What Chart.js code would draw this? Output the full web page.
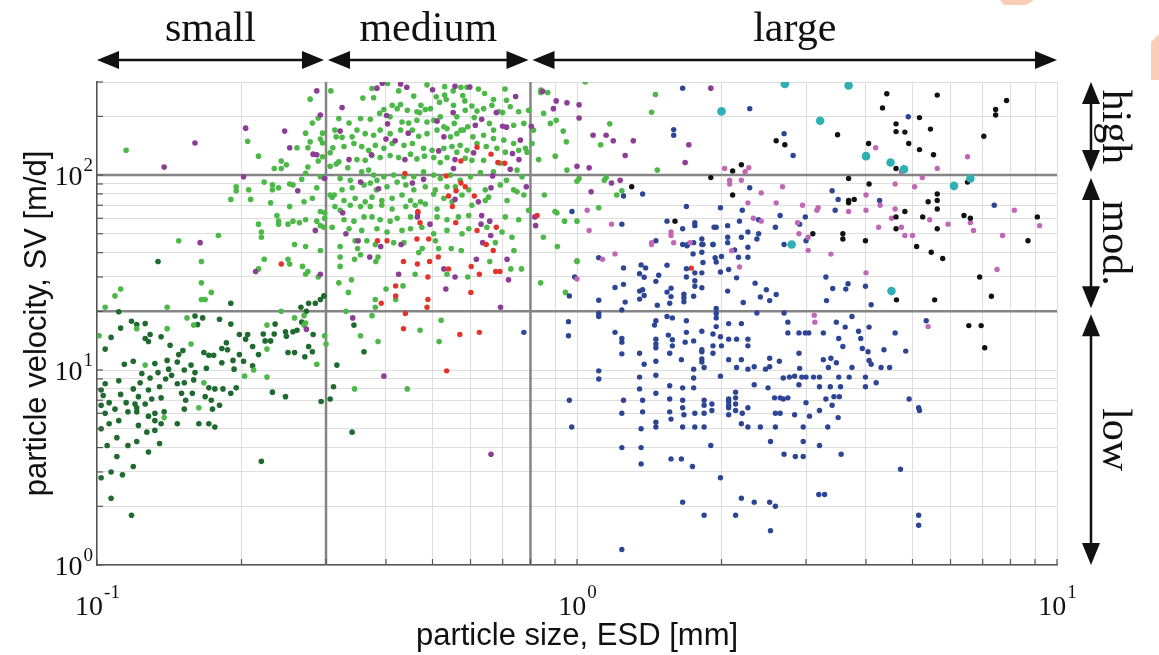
<!DOCTYPE html>
<html>
<head>
<meta charset="utf-8">
<title>particle size vs velocity</title>
<script src="https://cdn.jsdelivr.net/npm/chart.js@4/dist/chart.umd.min.js"></script>
<style>
  html, body { margin: 0; padding: 0; background: #fff; }
  #wrap { width: 1159px; height: 655px; }
</style>
</head>
<body>
<div id="wrap"><canvas id="chart" width="1159" height="655"></canvas></div>
<script>
// size classes (ESD, mm) and velocity classes (SV, m/d)
const sizeBounds = [0.1, 0.3, 0.8, 10];
const sizeNames = ['small', 'medium', 'large'];
const velBounds = [300, 100, 20, 1];
const velNames = ['high', 'mod.', 'low'];

// grid lines and decade labels
const xGridVals = [0.1,0.2,0.3,0.4,0.5,0.6,0.7,0.8,0.9,1,2,3,4,5,6,7,8,9,10];
const yGridVals = [1,2,3,4,5,6,7,8,9,10,20,30,40,50,60,70,80,90,100,200,300];
const xDecades = [0.1, 1, 10];
const xExps = ['-1', '0', '1'];
const yDecades = [1, 10, 100];
const yExps = ['0', '1', '2'];

// small particles (dark green)
const smallPts = [
  [0.111,19.9],[0.118,17.8],[0.121,17.1],[0.126,17.3],[0.112,16.4],[0.129,15.2],[0.126,14.5],[0.128,14],[0.136,14.8],[0.107,14.7],
  [0.104,12.8],[0.142,13.4],[0.151,12.6],[0.148,12],[0.14,11.2],[0.147,11],[0.132,10.8],[0.119,11.1],[0.114,10.7],[0.16,18.9],
  [0.162,17.1],[0.166,18.5],[0.18,18.2],[0.19,17.2],[0.167,12.3],[0.171,11.9],[0.175,11.9],[0.186,13.8],[0.182,12.9],[0.187,12.7],
  [0.182,10.9],[0.192,11.2],[0.198,12],[0.202,11.1],[0.198,15.2],[0.206,15.2],[0.204,14.4],[0.211,13.2],[0.217,12],[0.211,10.5],
  [0.222,15.3],[0.224,14.1],[0.23,14.1],[0.234,15.3],[0.235,17.2],[0.248,14.9],[0.247,15.7],[0.256,15.7],[0.261,16],[0.267,17.6],
  [0.25,12.3],[0.258,12.3],[0.271,11.7],[0.281,12.4],[0.276,13.2],[0.282,15.2],[0.157,10.6],[0.152,10],[0.16,9.7],[0.141,10.1],
  [0.143,9.4],[0.134,9.7],[0.139,9],[0.129,9.1],[0.124,9.6],[0.111,8.8],[0.104,8.5],[0.123,8.6],[0.119,8],[0.128,7.9],
  [0.135,8.2],[0.147,8.5],[0.152,8.6],[0.159,8.9],[0.169,10.2],[0.193,10.1],[0.195,8.1],[0.171,8.1],[0.176,8],[0.183,8],
  [0.19,7.6],[0.158,7.6],[0.15,7.6],[0.153,7],[0.136,7.2],[0.13,7.1],[0.122,7.3],[0.12,6.7],[0.115,6.8],[0.112,7.5],
  [0.106,6.8],[0.103,7.4],[0.102,7.9],[0.102,6.6],[0.109,6.3],[0.126,6.7],[0.121,6.4],[0.152,6.3],[0.168,7.3],[0.173,7],
  [0.174,6.3],[0.18,6.6],[0.232,7.7],[0.247,7.3],[0.293,6.9],[0.306,7.1],[0.311,8.2],[0.134,36],[0.19,22],[0.276,22],
  [0.285,22],[0.297,24],[0.292,23],[0.266,21],[0.273,20],[0.104,6],[0.116,6.1],[0.121,6.1],[0.128,5.8],[0.132,6],
  [0.138,6.1],[0.102,5],[0.106,5.3],[0.111,5.5],[0.122,5.2],[0.132,5.5],[0.136,5.3],[0.127,4.8],[0.132,4.9],[0.147,5.3],
  [0.163,5.3],[0.171,5.3],[0.176,5.1],[0.11,4.5],[0.105,4.1],[0.116,4.1],[0.121,4.3],[0.135,4.2],[0.128,3.8],[0.11,3.6],
  [0.119,3.2],[0.107,3],[0.113,2.9],[0.102,2.8],[0.107,2.2],[0.118,1.8],[0.22,3.4],[0.34,4.8],[0.343,17],[0.36,12.4],
  [0.316,10.6]
];

// medium particles (light green)
const mediumPts = [
  [0.115,134],[0.206,149],[0.217,125],[0.261,138],[0.242,118],[0.234,108],[0.242,108],[0.248,113],[0.307,270],[0.278,245],
  [0.289,196],[0.281,185],[0.272,164],[0.295,164],[0.278,148],[0.292,153],[0.295,146],[0.275,138],[0.289,118],[0.295,124],
  [0.275,110],[0.272,102],[0.306,130],[0.31,138],[0.315,157],[0.313,170],[0.315,114],[0.306,111],[0.292,98],[0.195,87],
  [0.195,83],[0.207,84],[0.19,75],[0.209,75],[0.223,92],[0.232,89],[0.239,86],[0.232,84],[0.252,90],[0.256,89],
  [0.267,95],[0.287,86],[0.306,79],[0.309,77],[0.312,79],[0.281,76],[0.23,72],[0.252,69],[0.27,73],[0.313,69],
  [0.292,65],[0.298,64],[0.237,62],[0.239,58],[0.239,56],[0.25,56],[0.256,58],[0.264,57],[0.272,59],[0.287,58],
  [0.292,55],[0.297,54],[0.298,60],[0.309,54],[0.217,56],[0.22,51],[0.22,48],[0.179,49],[0.148,46],[0.258,44],
  [0.165,36],[0.112,26],[0.109,24],[0.104,21],[0.165,28],[0.165,23],[0.168,23],[0.173,25],[0.14,21],[0.223,37],
  [0.217,33],[0.25,37],[0.252,35],[0.268,34],[0.272,31],[0.275,32],[0.289,30],[0.292,41],[0.272,43],[0.242,20],
  [0.27,19],[0.258,18.5],[0.272,17.4],[0.27,17],[0.298,15],[0.3,13.6],[0.287,10.7],[0.154,18.5],[0.159,17],[0.14,16.3],
  [0.121,16.3],[0.101,15],[0.157,13.6],[0.126,10.6],[0.226,17],[0.226,12.8],[0.212,10],[0.203,9.3],[0.226,9.2],[0.167,8.6],
  [0.163,6.4],[0.138,5.7],
  [0.374,278],[0.403,295],[0.425,270],[0.487,290],[0.53,284],[0.552,270],[0.573,282],[0.59,282],[0.623,276],[0.642,262],
  [0.67,244],[0.708,276],[0.713,242],[0.84,265],[0.869,265],[0.358,248],[0.377,249],[0.457,254],[0.473,228],[0.53,257],
  [0.534,244],[0.578,256],[0.584,240],[0.509,252],[0.517,236],[0.604,226],[0.7,209],[0.412,228],[0.429,230],[0.422,219],
  [0.443,215],[0.464,211],[0.47,209],[0.483,217],[0.495,219],[0.553,228],[0.562,199],[0.585,215],[0.619,213],[0.639,219],
  [0.665,228],[0.687,211],[0.726,224],[0.756,211],[0.793,215],[0.319,195],[0.335,185],[0.354,195],[0.371,193],[0.388,207],
  [0.396,217],[0.408,199],[0.432,187],[0.446,185],[0.464,191],[0.487,187],[0.503,191],[0.519,199],[0.536,173],[0.555,184],
  [0.573,170],[0.592,177],[0.611,197],[0.657,184],[0.67,170],[0.738,180],[0.775,184],[0.812,170],[0.324,156],[0.34,157],
  [0.348,170],[0.362,163],[0.377,160],[0.389,170],[0.408,163],[0.429,170],[0.454,170],[0.468,158],[0.487,163],[0.511,170],
  [0.528,177],[0.545,157],[0.562,163],[0.58,170],[0.607,157],[0.639,160],[0.67,154],[0.704,151],[0.738,145],[0.756,134],
  [0.781,137],[0.806,145],[0.327,140],[0.343,145],[0.356,140],[0.368,134],[0.38,142],[0.396,137],[0.412,145],[0.436,142],
  [0.454,145],[0.479,137],[0.499,134],[0.528,137],[0.549,140],[0.571,142],[0.59,134],[0.619,145],[0.647,140],[0.681,137],
  [0.709,131],[0.787,131],[0.319,117],[0.333,109],[0.348,120],[0.362,119],[0.374,126],[0.389,123],[0.408,126],[0.425,123],
  [0.45,128],[0.464,121],[0.481,125],[0.503,123],[0.519,116],[0.536,123],[0.562,131],[0.585,122],[0.604,119],[0.639,119],
  [0.692,115],[0.75,106],[0.321,96],[0.337,94],[0.356,104],[0.368,106],[0.377,100],[0.383,94],[0.396,98],[0.415,100],
  [0.436,98],[0.457,98],[0.479,104],[0.503,100],[0.519,96],[0.545,100],[0.571,94],[0.6,98],[0.629,103],[0.67,104],
  [0.713,94],[0.768,98],[0.324,84],[0.34,86],[0.36,89],[0.371,91],[0.382,84],[0.402,87],[0.422,92],[0.44,89],
  [0.457,84],[0.483,87],[0.507,84],[0.536,87],[0.558,87],[0.595,84],[0.644,84],[0.692,89],[0.738,84],[0.775,79],
  [0.327,74],[0.345,76],[0.362,73],[0.374,77],[0.392,74],[0.412,76],[0.432,79],[0.45,74],[0.472,73],[0.503,80],
  [0.528,76],[0.576,79],[0.654,77],[0.715,74],[0.75,82],[0.321,66],[0.337,70],[0.354,69],[0.371,69],[0.392,70],
  [0.412,67],[0.44,69],[0.46,70],[0.483,71],[0.511,67],[0.549,73],[0.604,70],[0.644,74],[0.327,59],[0.343,58],
  [0.36,61],[0.374,61],[0.389,59],[0.408,58],[0.422,60],[0.45,61],[0.511,61],[0.536,59],[0.566,61],[0.595,62],
  [0.709,61],[0.756,59],[0.793,66],[0.335,53],[0.356,52],[0.383,53],[0.402,51],[0.432,52],[0.45,53],[0.475,54],
  [0.503,50],[0.536,52],[0.576,50],[0.595,53],[0.649,54],[0.698,51],[0.732,48],[0.345,46],[0.365,46],[0.415,45],
  [0.436,45],[0.507,46],[0.676,45],[0.841,273],[0.852,207],[0.88,184],[0.905,191],[0.936,168],[0.95,148],[0.901,125],
  [0.832,120],[0.855,79],[0.942,58],[0.9,65],[0.908,64],[0.851,48],[0.953,106],
  [0.321,43],[0.349,42],[0.354,39],[0.344,37],[0.321,38],[0.321,34],[0.339,29],[0.319,28],[0.334,25],[0.381,36],
  [0.385,38],[0.38,44],[0.4,26],[0.419,23],[0.434,27],[0.46,31],[0.468,40],[0.476,42],[0.515,42],[0.547,42],
  [0.574,41],[0.536,31],[0.592,30],[0.658,36],[0.728,33],[0.739,41],[0.766,33],[0.38,23],[0.38,21],[0.374,19],
  [0.33,20],[0.354,15],[0.385,14],[0.471,16],[0.521,18],[0.516,14],[0.344,8],[0.443,8],[0.84,28],[0.946,25],
  [1.0,36],[0.91,43],
  [1.04,300],[1.457,259],[1.43,210],[1.17,183],[1.12,143],[1.47,106],[1.01,96],[1.0,93],[1.14,94],[1.15,97],
  [1.24,83],[1.21,79],[1.11,68],[1.0,58],[1.0,36.3]
];

// purple
const purplePts = [
  [0.138,110],[0.16,146],[0.204,174],[0.246,168],[0.252,138],[0.287,270],[0.292,203],[0.282,128],[0.287,127],[0.202,98],
  [0.298,96],[0.262,83],[0.285,52],[0.164,45],[0.214,32],[0.292,31],[0.273,16.2],
  [0.383,279],[0.393,296],[0.429,293],[0.442,282],[0.5,274],[0.557,285],[0.598,283],[0.745,253],[0.848,269],[0.905,240],
  [0.953,235],[0.893,219],[0.324,222],[0.552,209],[0.679,209],[0.7,178],[0.713,176],[0.803,178],[0.401,202],[0.403,183],
  [0.511,189],[0.614,180],[0.633,193],[0.445,164],[0.418,150],[0.4,153],[0.373,127],[0.335,120],[0.321,168],[0.762,151],
  [0.734,129],[0.757,120],[0.726,107],[0.609,130],[0.557,120],[0.553,108],[0.515,133],[0.528,157],[0.438,120],[0.479,95],
  [0.454,91],[0.386,85],[0.354,92],[0.667,99],[0.662,86],[0.557,75],[0.623,73],[0.784,87],[0.633,62],[0.658,58],
  [0.631,56],[0.661,49],[0.636,45],[0.465,61],[0.466,64],[0.494,56],[0.325,64],[0.33,50],[0.35,46],[0.817,61],
  [0.82,55],[0.37,38],[0.39,43],[0.43,44],[0.425,31],[0.528,33],[0.557,30],[0.617,37],[0.715,37],[0.72,29],
  [0.533,26],[0.693,21],[0.341,18.5],[0.396,9.3],[0.662,3.7],
  [1.01,229],[1.01,196],[1.08,160],[1.15,160],[1.19,150],[1.31,150],[1.26,126],[1.71,143],[1.68,116],[1.9,279],
  [1.06,109],[1.0,111],[1.23,94],[1.18,91],[1.07,82]
];

// red
const redPts = [
  [0.619,139],[0.662,128],[0.684,116],[0.707,115],[0.573,118],[0.438,102],[0.534,99],[0.56,83],[0.573,91],[0.585,87],
  [0.54,78],[0.55,69],[0.611,78],[0.466,65],[0.471,57],[0.559,57],[0.679,54],[0.619,52],[0.384,46],[0.402,46],
  [0.464,47],[0.491,47],[0.826,62],[0.647,44],[0.669,41],[0.435,36],[0.465,35],[0.493,36],[0.514,38],[0.54,33],
  [0.602,34],[0.626,31],[0.677,32],[0.691,32],[0.489,30],[0.419,27],[0.419,24],[0.391,22],[0.489,23],[0.487,21],
  [0.601,25],[0.439,19.5],[0.435,16.3],[0.57,15.2],[0.626,15.6],[0.535,9.9],[0.242,35],[1.73,33.3]
];

// large particles (blue)
const bluePts = [
  [0.976,65],[0.989,30],[0.964,24],[0.96,17.7],[0.96,15],[0.775,15.6],[0.964,7],[0.975,5.1],
  [1.66,279],[2.29,219],[1.59,171],[1.59,160],[2.7,163],[2.82,126],[2.29,86],[1.25,78],[1.37,80],[1.69,69],
  [1.99,68],[2.21,66],[2.65,62],[2.99,61],[1.24,56],[1.54,58],[1.66,53],[1.76,57],[1.76,55],[1.93,54],
  [1.95,54],[2.06,55],[2.18,58],[2.39,59],[2.59,54],[2.91,56],[1.46,46],[1.66,44],[1.7,44],[1.82,47],
  [1.83,44],[1.92,44],[2.06,48],[2.06,45],[2.2,48],[2.27,51],[2.39,50],[2.37,47],[2.7,44],[3.0,46],[1.75,45],
  [4.9,199],[3.4,83],[3.5,75],[3.45,66],[4.27,74],[7.4,70],
  [1.695,43.4],[1.82,44],[1.92,44],[2.27,42.6],[2.13,41.3],[1.745,39.4],[1.82,40.2],[1.94,37.7],[2.0,38.2],[1.95,35.8],
  [1.83,35.6],[2.17,37.9],[2.27,37.9],[1.11,37.7],[1.25,33.4],[1.36,34.6],[1.39,33.4],[1.54,34.5],[1.69,33.1],[1.82,31.5],
  [1.76,31.5],[1.35,31.2],[1.38,29.9],[1.48,30.6],[1.46,28.5],[1.69,30],[1.76,28.7],[1.99,31.8],[2.07,32.8],[2.15,29.7],
  [1.2,26.5],[1.25,27.5],[1.35,25.4],[1.37,25.8],[1.38,24.1],[1.35,23.1],[1.54,25.1],[1.57,26.3],[1.57,23.8],[1.67,24.5],
  [1.67,23.5],[1.67,22.4],[1.56,22],[1.75,23.9],[1.76,26.9],[1.82,26.4],[2.06,25.4],[2.35,27.9],[2.48,25.8],[2.41,23.7],
  [2.52,22.7],[2.6,24.4],[2.22,22.2],[1.47,21.5],[1.11,22.8],[1.26,22.3],[1.24,20.3],[1.11,19.5],[1.11,18.8],[1.95,20.7],
  [1.95,19.5],[1.95,18.5],[1.95,16.7],[1.54,18.8],[1.58,18.5],[1.46,17.9],[1.45,17],[1.69,17.9],[1.2,15.6],[1.24,14.5],
  [1.24,13.9],[1.24,12.1],[1.46,14.4],[1.46,13.6],[1.46,13],[1.55,15.1],[1.58,14.3],[1.58,13.3],[1.56,12.2],[1.68,13.9],
  [1.69,15.6],[1.75,14.1],[1.82,15.8],[1.82,12.7],[1.82,12.4],[1.82,11.4],[1.82,11],[1.84,10.3],[1.92,15.3],[1.92,13.3],
  [1.92,12.2],[1.99,14.8],[2.0,13.3],[2.07,17.3],[2.2,17.3],[2.37,19.6],[2.7,19.6],[2.75,17.6],[2.07,14.4],[2.15,14.4],
  [2.27,14.4],[2.27,13.3],[2.07,11.3],[2.2,11.3],[2.15,10.3],[2.27,10.1],[2.34,10.4],[2.47,10.1],[2.52,10.4],[2.52,11.5],
  [2.64,11.1],[2.75,15.5],[2.9,15.5],[2.99,15.5],[3.04,15.5],[2.9,12.2],[2.91,10.2],[1.35,12.2],[1.38,10.7],[1.46,11.1],
  [1.65,11.3],[1.75,10.1],[1.75,9.1],[1.75,8.1],[1.66,8.1],[1.56,8.3],[1.56,7.1],[1.46,9.4],[1.46,7.6],[1.35,9.2],
  [1.35,8],[1.37,7],[1.25,7],[1.11,9.9],[1.11,9],[1.99,9.3],[2.34,8.4],[2.5,8.1],[2.69,9.1],[2.77,9.2],
  [2.84,9.3],[2.9,8.4],[2.94,9.2],[3.0,9.2],[3.11,9.2],[2.58,7.2],[2.65,7.2],[2.69,7.1],[2.75,7.2],[3.0,6.8],
  [2.07,7.1],[2.07,6.9],[2.07,6.6],[2.14,7.7],[2.14,7.2],[2.14,6.7],[1.91,6.7],[1.84,7],[1.84,6.6],[1.66,7],
  [1.66,6.4],[2.27,6.4],[2.07,6.4],
  [3.3,30],[3.41,26.2],[3.63,26],[3.67,27.7],[3.99,26.9],[3.31,22.7],[4.1,21.6],[3.74,18.8],[3.47,17.6],[3.62,16.6],
  [4.06,16.6],[3.86,15.8],[3.26,15.5],[4.6,15.5],[3.51,14.5],[3.9,14.5],[3.58,13.2],[3.93,12.9],[4.04,12.4],[4.36,12.7],
  [4.84,12.5],[3.26,11.3],[3.38,11.5],[3.47,10.9],[3.34,10.3],[3.74,10.3],[4.06,11.2],[4.1,10.7],[4.3,10.3],[4.48,10.3],
  [3.2,9.2],[3.51,9.2],[3.69,9.2],[3.99,9.2],[4.2,8.6],[3.2,8.2],[3.37,8.2],[3.54,8.2],[3.99,8.2],[3.3,7.1],
  [3.43,7.3],[3.52,7.3],[3.4,6.6],[4.92,7.1],[5.15,6.4],[5.34,17.9],
  [1.24,6.0],[1.37,6.1],[1.56,6.1],[1.67,5.9],[1.76,6],[1.84,6],[1.91,6.2],[2.07,5.9],[2.14,6.2],[2.21,6],
  [2.59,6],[2.65,6],[2.84,5.9],[3.05,5.8],[3.2,6.2],[3.5,5.7],[5.17,6.2],[1.36,5],[1.46,5.4],[1.46,5.1],
  [1.57,5.6],[1.66,5.1],[1.76,5.1],[1.84,5.1],[2.2,5.3],[2.27,5.1],[2.41,5.1],[2.59,5.1],[2.96,5.1],[3.33,5.1],
  [1.24,4],[1.36,4],[1.9,4.1],[2.53,4.3],[2.96,4.3],[3.2,4.1],[1.36,3.3],[1.57,3.5],[1.65,3.5],[1.74,3.2],
  [2.7,3.7],[2.85,3.6],[2.96,3.6],[3.55,3.7],[1.99,2.8],[4.72,3.1],[1.66,2.1],[2.2,2.2],[2.34,2.1],[2.52,2.1],
  [2.59,2],[3.19,2.3],[3.28,2.3],[1.84,1.8],[2.14,1.8],[5.15,1.8],[2.53,1.5],[5.15,1.6],[1.24,1.2]
];

// pink
const pinkPts = [
  [2.03,108],[2.28,109],[2.24,104],[2.08,94],[2.08,90],[2.2,94],[2.42,81],[2.68,87],[2.27,72],[2.6,72],
  [2.95,70],[1.18,56],[1.05,66],[1.06,52],[1.57,51],[1.57,49],[1.59,45],[1.43,45],[1.72,45],[2.33,60],
  [2.42,58],[2.88,57],[2.9,50],[3.03,48],[3.16,66],
  [4.19,138],[6.51,124],[5.63,108],[4.74,104],[5.24,97],[4.6,90],[5.05,87],[4.0,79],[4.28,70],[3.18,68],
  [3.68,65],[4.0,66],[4.6,67],[4.52,60],[5.43,59],[5.93,56],[6.6,57],[6.7,52],[8.15,66],[9.2,55],
  [4.25,54],[4.74,54],[4.82,49],[5.0,49],[7.7,49],
  [1.13,37],[1.2,39.4],[1.43,44],[2.1,40.9],[2.18,33.8],[3.03,41.1],[1.0,29.3],[3.12,19.1],[3.13,17.6],
  [3.38,39.3],[4.0,31.5],[5.39,16.7],[7.5,32.8]
];

// black
const blackPts = [
  [2.6,150],[2.71,143],[2.2,113],[2.11,105],[1.9,97],[1.3,87],[2.11,79],[1.6,58],[3.1,50],
  [4.42,261],[5.63,257],[7.85,241],[4.33,221],[7.45,217],[7.45,203],[5.17,197],[4.62,183],[4.62,167],[4.82,166],
  [5.45,172],[3.49,161],[7.04,158],[4.05,145],[4.91,145],[5.17,135],[5.53,127],[4.62,108],[3.68,96],[4.06,90],
  [6.51,92],[3.68,74],[3.68,72],[3.78,75],[5.63,80],[5.63,74],[5.39,73],[5.63,67],[4.82,65],[4.62,61],
  [5.25,61],[6.4,62],[6.6,60],[9.1,61],[4.62,53],[5.63,53],[3.58,50],[3.58,47],[3.99,46],[8.7,46],
  [5.1,43],[5.47,40.2],[5.78,37.3],[6.9,30],[4.63,22.9],[5.56,22.9],[7.3,23.9],[6.55,16.9],[6.95,16.9],[7.07,13]
];

// teal (larger markers)
const tealPts = [
  [2.71,293],[2.0,212],[2.8,44],[3.68,288],[3.21,190],[4.0,125],[4.5,116],[4.8,107],[6.1,88],[6.6,96],[4.52,25.4]
];

const toXY = arr => arr.map(p => ({ x: p[0], y: p[1] }));

function dots(data, color, r) {
    return {
        type: 'scatter',
        data: toXY(data),
        backgroundColor: color,
        borderWidth: 0,
        pointRadius: r,
        pointHoverRadius: r
    };
}

function boundLine(data) {
    return {
        type: 'line',
        data: toXY(data),
        borderColor: '#858585',
        borderWidth: 2.5,
        pointRadius: 0,
        fill: false
    };
}

// first dataset is drawn on top
const datasets = [
    dots(tealPts, '#2fb0b3', 4.3),
    dots(blackPts, '#111111', 2.7),
    dots(pinkPts, '#c266b6', 2.7),
    dots(bluePts, '#2c4595', 2.7),
    dots(redPts, '#e5332a', 2.7),
    dots(purplePts, '#8c3d94', 2.8),
    dots(mediumPts, '#4cb848', 2.8),
    dots(smallPts, '#1f6a2f', 2.8),
    boundLine([[sizeBounds[1], 1], [sizeBounds[1], 300]]),
    boundLine([[sizeBounds[2], 1], [sizeBounds[2], 300]]),
    boundLine([[0.1, velBounds[1]], [10, velBounds[1]]]),
    boundLine([[0.1, velBounds[2]], [10, velBounds[2]]])
];

function drawArrow(ctx, x1, y1, x2, y2) {
    const len = 22, half = 9;
    const ang = Math.atan2(y2 - y1, x2 - x1);
    const cos = Math.cos(ang), sin = Math.sin(ang);
    ctx.beginPath();
    ctx.moveTo(x1 + cos * len * 0.8, y1 + sin * len * 0.8);
    ctx.lineTo(x2 - cos * len * 0.8, y2 - sin * len * 0.8);
    ctx.stroke();
    [[x1, y1, 1], [x2, y2, -1]].forEach(([tx, ty, d]) => {
        const bx = tx + d * cos * len, by = ty + d * sin * len;
        ctx.beginPath();
        ctx.moveTo(tx, ty);
        ctx.lineTo(bx - sin * half, by + cos * half);
        ctx.lineTo(bx + sin * half, by - cos * half);
        ctx.closePath();
        ctx.fill();
    });
}

const decor = {
    id: 'decor',
    afterDraw(chart) {
        const { ctx, chartArea: a, scales: { x, y } } = chart;
        ctx.save();

        // inner tick marks
        ctx.strokeStyle = '#555';
        ctx.lineWidth = 1.2;
        xGridVals.forEach(v => {
            const px = x.getPixelForValue(v);
            ctx.beginPath(); ctx.moveTo(px, a.bottom); ctx.lineTo(px, a.bottom - 6); ctx.stroke();
        });
        yGridVals.forEach(v => {
            const py = y.getPixelForValue(v);
            ctx.beginPath(); ctx.moveTo(a.left, py); ctx.lineTo(a.left + 6, py); ctx.stroke();
        });

        // decade tick labels
        ctx.fillStyle = '#111';
        ctx.textBaseline = 'alphabetic';
        xDecades.forEach((v, i) => {
            const px = x.getPixelForValue(v);
            ctx.font = '28px "Liberation Serif"';
            const w1 = ctx.measureText('10').width;
            ctx.font = '19px "Liberation Serif"';
            const w2 = ctx.measureText(xExps[i]).width;
            const left = px - (w1 + w2) / 2;
            ctx.font = '28px "Liberation Serif"';
            ctx.textAlign = 'left';
            ctx.fillText('10', left, 615);
            ctx.font = '19px "Liberation Serif"';
            ctx.fillText(xExps[i], left + w1 + 1, 598);
        });
        yDecades.forEach((v, i) => {
            const py = y.getPixelForValue(v);
            ctx.font = '19px "Liberation Serif"';
            ctx.textAlign = 'right';
            ctx.fillText(yExps[i], a.left - 4, py - 4);
            const w2 = ctx.measureText(yExps[i]).width;
            ctx.font = '28px "Liberation Serif"';
            ctx.fillText('10', a.left - 5 - w2, py + 10);
        });

        // axis titles
        ctx.font = '31px "Liberation Sans"';
        ctx.textAlign = 'center';
        ctx.fillText('particle size, ESD [mm]', (a.left + a.right) / 2, 645);
        ctx.save();
        ctx.translate(46, (a.top + a.bottom) / 2);
        ctx.rotate(-Math.PI / 2);
        ctx.fillText('particle velocity, SV [m/d]', 0, 0);
        ctx.restore();

        // size class arrows
        ctx.strokeStyle = '#111';
        ctx.fillStyle = '#111';
        ctx.lineWidth = 2.5;
        ctx.font = '42px "Liberation Serif"';
        ctx.textAlign = 'center';
        for (let i = 0; i < sizeNames.length; i++) {
            const x1 = x.getPixelForValue(sizeBounds[i]) + (i > 0 ? 2 : 0);
            const x2 = x.getPixelForValue(sizeBounds[i + 1]) - (i < sizeNames.length - 1 ? 2 : 0);
            drawArrow(ctx, x1, 60, x2, 60);
            ctx.fillText(sizeNames[i], (x1 + x2) / 2, 41);
        }

        // velocity class arrows
        const ax = 1091;
        for (let i = 0; i < velNames.length; i++) {
            const y1 = y.getPixelForValue(velBounds[i]) + (i > 0 ? 3 : 0);
            const y2 = y.getPixelForValue(velBounds[i + 1]) - (i < velNames.length - 1 ? 3 : 0);
            drawArrow(ctx, ax, y1, ax, y2);
            ctx.save();
            ctx.translate(1114, (y1 + y2) / 2);
            ctx.rotate(Math.PI / 2);
            ctx.textBaseline = 'middle';
            ctx.fillText(velNames[i], 0, 0);
            ctx.restore();
        }

        // peach marks in the page corner
        ctx.fillStyle = '#f9cdb6';
        ctx.beginPath();
        ctx.moveTo(1000, 0); ctx.lineTo(1034, 0); ctx.lineTo(1026, 5); ctx.lineTo(1004, 5);
        ctx.closePath(); ctx.fill();
        ctx.beginPath();
        ctx.moveTo(1151, 42); ctx.lineTo(1159, 34); ctx.lineTo(1159, 80); ctx.lineTo(1151, 80);
        ctx.closePath(); ctx.fill();

        ctx.restore();
    }
};

new Chart(document.getElementById('chart').getContext('2d'), {
    type: 'scatter',
    data: { datasets },
    options: {
        responsive: false,
        animation: false,
        devicePixelRatio: 1,
        layout: { padding: { left: 97, right: 102, top: 82, bottom: 90 } },
        plugins: { legend: { display: false }, tooltip: { enabled: false } },
        scales: {
            x: {
                type: 'logarithmic',
                min: 0.1,
                max: 10,
                afterBuildTicks: axis => { axis.ticks = xGridVals.map(v => ({ value: v })); },
                ticks: { display: false },
                grid: { color: '#dedede', lineWidth: 1, drawTicks: false },
                border: { color: '#555', width: 1.5 }
            },
            y: {
                type: 'logarithmic',
                min: 1,
                max: 300,
                afterBuildTicks: axis => { axis.ticks = yGridVals.map(v => ({ value: v })); },
                ticks: { display: false },
                grid: { color: '#dedede', lineWidth: 1, drawTicks: false },
                border: { color: '#555', width: 1.5 }
            }
        }
    },
    plugins: [decor]
});
</script>
</body>
</html>
